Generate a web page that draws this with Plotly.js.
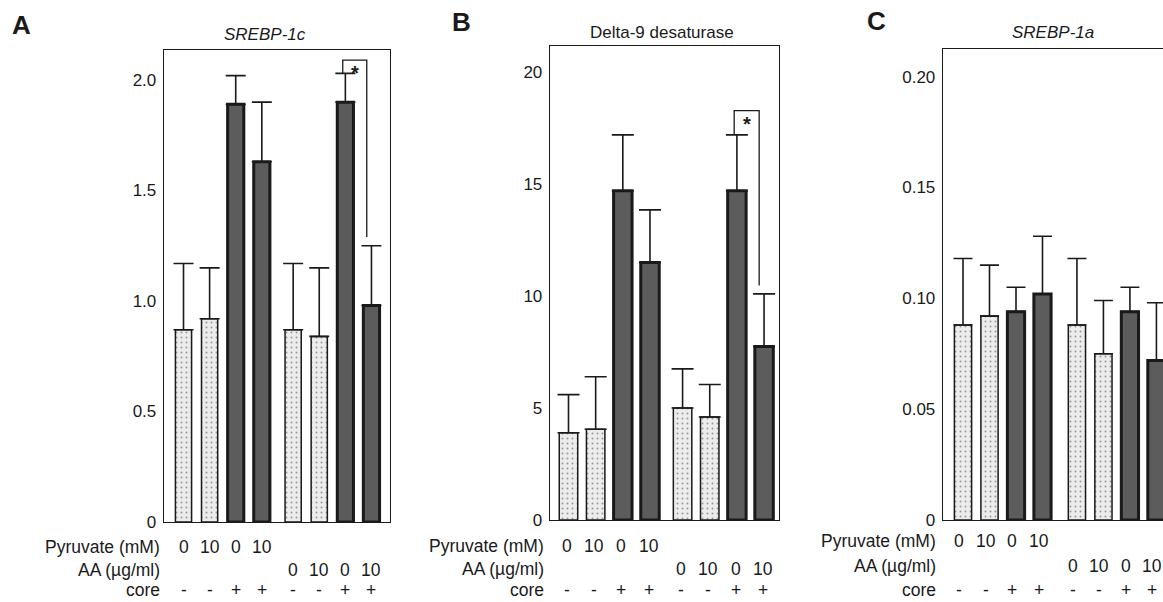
<!DOCTYPE html>
<html><head><meta charset="utf-8">
<script src="https://cdn.plot.ly/plotly-3.0.1.min.js"></script>
<style>html,body{margin:0;padding:0;overflow:hidden;background:#fff}#chart{width:1180px;height:602px}</style>
</head><body><div id="chart"></div>
<script>
// ---- data ----
const conditions = ['Pyr0 core-', 'Pyr10 core-', 'Pyr0 core+', 'Pyr10 core+', 'AA0 core-', 'AA10 core-', 'AA0 core+', 'AA10 core+'];
const pyruvateLabels = ['0', '10', '0', '10', '', '', '', ''];
const aaLabels = ['', '', '', '', '0', '10', '0', '10'];
const coreLabels = ['-', '-', '+', '+', '-', '-', '+', '+'];
const coreExpressed = [false, false, true, true, false, false, true, true];

const srebp1cMean = [0.87, 0.92, 1.89, 1.63, 0.87, 0.84, 1.90, 0.98];
const srebp1cErr  = [0.30, 0.23, 0.13, 0.27, 0.30, 0.31, 0.13, 0.27];
const delta9Mean  = [3.9, 4.05, 14.7, 11.5, 5.0, 4.6, 14.7, 7.75];
const delta9Err   = [1.7, 2.35, 2.5, 2.35, 1.75, 1.45, 2.5, 2.35];
const srebp1aMean = [0.088, 0.092, 0.094, 0.102, 0.088, 0.075, 0.094, 0.072];
const srebp1aErr  = [0.030, 0.023, 0.011, 0.026, 0.030, 0.024, 0.011, 0.026];

const yTicksA = [0, 0.5, 1.0, 1.5, 2.0], yTextA = ['0', '0.5', '1.0', '1.5', '2.0'];
const yTicksB = [0, 5, 10, 15, 20], yTextB = ['0', '5', '10', '15', '20'];
const yTicksC = [0, 0.05, 0.10, 0.15, 0.20], yTextC = ['0', '0.05', '0.10', '0.15', '0.20'];

const panelLetters = ['A', 'B', 'C'];
const panelTitles = ['<i>SREBP-1c</i>', 'Delta-9 desaturase', '<i>SREBP-1a</i>'];
const rowNames = ['Pyruvate (mM)', 'AA (\u00b5g/ml)', 'core'];

// ---- layout geometry (pixels) ----
const W = 1180, H = 602;
const FONT = 'Liberation Sans, Arial, Helvetica, sans-serif';
const INK = '#1a1a1a';
const ROWFONT = 17.5;
const panels = [
  {mean: srebp1cMean, err: srebp1cErr, ticks: yTicksA, text: yTextA, px: [164, 390], py: [50, 522], yr: [0, 2.136], xr: [0.253, 8.91], gap: 0.2, bw: 0.62, cap: 10,
   title: [265, 35], letter: [10, 25], rowX: 162, rowY: [547, 570, 590], lblShift: 0, sig: {rise: 0.06, drop: 0.04}},
  {mean: delta9Mean, err: delta9Err, ticks: yTicksB, text: yTextB, px: [550, 779], py: [46, 520], yr: [0, 21.17], xr: [0.319, 8.75], gap: 0.2, bw: 0.68, cap: 11,
   title: [662, 33], letter: [450, 22], rowX: 546, rowY: [546, 569, 590], lblShift: -0.05, sig: {rise: 1.08, drop: 0.37}},
  {mean: srebp1aMean, err: srebp1aErr, ticks: yTicksC, text: yTextC, px: [943, 1175.5], py: [49, 520], yr: [0, 0.2125], xr: [0.245, 9.02], gap: 0.3, bw: 0.65, cap: 9.5,
   title: [1053, 33], letter: [865, 21], rowX: 938, rowY: [541, 566, 590], lblShift: -0.15, sig: null}
];

const traces = [], annotations = [], shapes = [];
const layout = {
  width: W, height: H, margin: {l: 0, r: 0, t: 0, b: 0},
  paper_bgcolor: '#fff', plot_bgcolor: '#fff', showlegend: false,
  font: {family: FONT, color: INK}
};

panels.forEach((p, k) => {
  const sfx = k === 0 ? '' : String(k + 1);
  const xa = 'x' + sfx, ya = 'y' + sfx;
  const pos = conditions.map((c, i) => i + 1 + (i >= 4 ? p.gap : 0));
  const fill = coreExpressed.map(c => c ? '#5c5c5c' : '#ececec');
  const lw = coreExpressed.map(c => c ? 3 : 1.5);
  traces.push({
    type: 'bar', x: pos, y: p.mean, width: p.bw, xaxis: xa, yaxis: ya,
    marker: {color: fill, line: {color: INK, width: lw},
             pattern: {shape: coreExpressed.map(c => c ? '' : '.'), fgcolor: '#b0b0b0', size: 5, solidity: 0.12, fillmode: 'overlay'}},
    error_y: {type: 'data', symmetric: false, array: p.err, arrayminus: p.err.map(() => 0),
              color: INK, thickness: 1.6, width: p.cap},
    hovertext: conditions, hoverinfo: 'text+y'
  });
  layout['xaxis' + sfx] = {
    domain: [p.px[0] / W, p.px[1] / W], range: p.xr, anchor: ya,
    showline: true, mirror: true, linecolor: INK, linewidth: 1.3,
    showgrid: false, zeroline: false, ticks: '', showticklabels: false, fixedrange: true
  };
  layout['yaxis' + sfx] = {
    domain: [1 - p.py[1] / H, 1 - p.py[0] / H], range: p.yr, anchor: xa,
    showline: true, mirror: true, linecolor: INK, linewidth: 1.3,
    showgrid: false, zeroline: false, ticks: '', tickvals: p.ticks, ticktext: p.text,
    tickfont: {size: 17, family: FONT, color: INK}, ticklabelstandoff: 3, fixedrange: true
  };
  // panel letter and title
  annotations.push({xref: 'paper', yref: 'paper', x: p.letter[0] / W, y: 1 - p.letter[1] / H,
    xanchor: 'left', yanchor: 'middle', showarrow: false, text: '<b>' + panelLetters[k] + '</b>',
    font: {size: 26, family: FONT, color: INK}});
  annotations.push({xref: 'paper', yref: 'paper', x: p.title[0] / W, y: 1 - p.title[1] / H,
    xanchor: 'center', yanchor: 'middle', showarrow: false, text: panelTitles[k],
    font: {size: 17, family: FONT, color: INK}});
  // row names
  rowNames.forEach((r, j) => annotations.push({xref: 'paper', yref: 'paper', x: p.rowX / W, y: 1 - p.rowY[j] / H,
    xanchor: 'right', yanchor: 'middle', showarrow: false, text: r, font: {size: ROWFONT, family: FONT, color: INK}}));
  // condition values under each bar
  [pyruvateLabels, aaLabels, coreLabels].forEach((row, j) => row.forEach((t, i) => {
    if (!t) return;
    annotations.push({xref: xa, yref: 'paper', x: pos[i] + p.lblShift, y: 1 - p.rowY[j] / H,
      xanchor: 'center', yanchor: 'middle', showarrow: false, text: t,
      font: {size: ROWFONT, family: FONT, color: INK}});
  }));
  // significance bracket between bars 7 and 8
  if (p.sig) {
    const y7 = p.mean[6] + p.err[6], y8 = p.mean[7] + p.err[7];
    const top = y7 + p.sig.rise, x1 = pos[6] - 0.1, x2 = pos[7] - 0.18;
    shapes.push({type: 'path', xref: xa, yref: ya,
      path: `M ${x1},${y7} L ${x1},${top} L ${x2},${top} L ${x2},${y8 + p.sig.drop}`,
      line: {color: INK, width: 1.3}});
    annotations.push({xref: xa, yref: ya, x: (x1 + x2) / 2, y: top, xanchor: 'center', yanchor: 'top',
      showarrow: false, text: '<b>*</b>', font: {size: 20, family: FONT, color: INK}});
  }
});
layout.annotations = annotations;
layout.shapes = shapes;
Plotly.newPlot('chart', traces, layout, {displayModeBar: false, staticPlot: true});
</script>
</body></html>
